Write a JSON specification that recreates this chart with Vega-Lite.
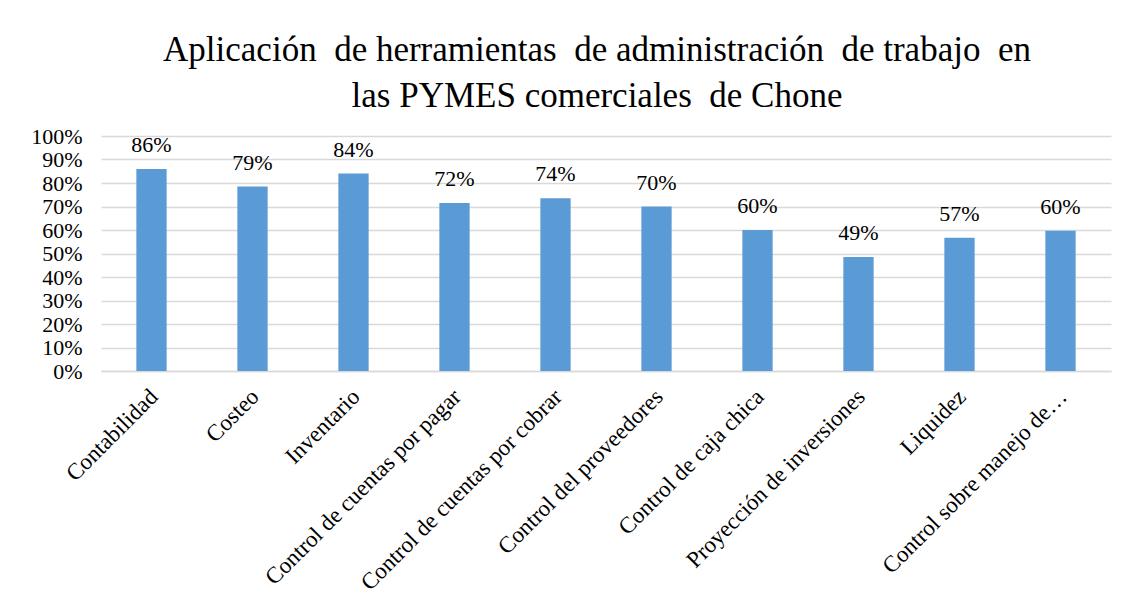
{
  "$schema": "https://vega.github.io/schema/vega-lite/v6.json",
  "width": 1010,
  "height": 235,
  "autosize": {"type": "none"},
  "padding": {"left": 101, "top": 136, "right": 22, "bottom": 236},
  "background": "white",
  "title": {
    "text": ["Aplicación\u00a0 de herramientas\u00a0 de administración\u00a0 de trabajo\u00a0 en", "las PYMES comerciales\u00a0 de Chone"],
    "font": "Liberation Serif",
    "fontSize": 35,
    "fontWeight": "normal",
    "color": "#000000",
    "lineHeight": 46,
    "anchor": "middle",
    "dx": -9,
    "offset": 11
  },
  "data": {
    "values": [
      {"herramienta": "Contabilidad", "valor": 0.86, "etiqueta": "86%"},
      {"herramienta": "Costeo", "valor": 0.785, "etiqueta": "79%"},
      {"herramienta": "Inventario", "valor": 0.84, "etiqueta": "84%"},
      {"herramienta": "Control de cuentas por pagar", "valor": 0.715, "etiqueta": "72%"},
      {"herramienta": "Control de cuentas por cobrar", "valor": 0.735, "etiqueta": "74%"},
      {"herramienta": "Control del proveedores", "valor": 0.70, "etiqueta": "70%"},
      {"herramienta": "Control de caja chica", "valor": 0.60, "etiqueta": "60%"},
      {"herramienta": "Proyección de inversiones", "valor": 0.485, "etiqueta": "49%"},
      {"herramienta": "Liquidez", "valor": 0.567, "etiqueta": "57%"},
      {"herramienta": "Control sobre manejo de…", "valor": 0.597, "etiqueta": "60%"}
    ]
  },
  "encoding": {
    "x": {
      "field": "herramienta",
      "type": "nominal",
      "sort": null,
      "scale": {"paddingInner": 0.7, "paddingOuter": 0.35},
      "axis": {
        "title": null,
        "labelAngle": -45,
        "labelAlign": "right",
        "labelBaseline": "top",
        "labelFont": "Liberation Serif",
        "labelFontSize": 23,
        "labelColor": "#000000",
        "labelPadding": 14,
        "labelOffset": -5,
        "labelLimit": 400,
        "ticks": false,
        "domainColor": "#d9d9d9",
        "domainWidth": 1.5,
        "grid": false
      }
    },
    "y": {
      "field": "valor",
      "type": "quantitative",
      "scale": {"domain": [0, 1], "nice": false},
      "axis": {
        "title": null,
        "format": ".0%",
        "values": [0, 0.1, 0.2, 0.3, 0.4, 0.5, 0.6, 0.7, 0.8, 0.9, 1],
        "labelFont": "Liberation Serif",
        "labelFontSize": 22,
        "labelColor": "#000000",
        "labelPadding": 19,
        "ticks": false,
        "domain": false,
        "grid": true,
        "gridColor": "#d9d9d9",
        "gridWidth": 1.5
      }
    }
  },
  "layer": [
    {"mark": {"type": "bar", "color": "#5b9bd5"}},
    {
      "mark": {"type": "text", "baseline": "bottom", "dy": -12, "font": "Liberation Serif", "fontSize": 22, "color": "#000000"},
      "encoding": {"text": {"field": "etiqueta", "type": "nominal"}}
    }
  ],
  "config": {"view": {"stroke": null}}
}
